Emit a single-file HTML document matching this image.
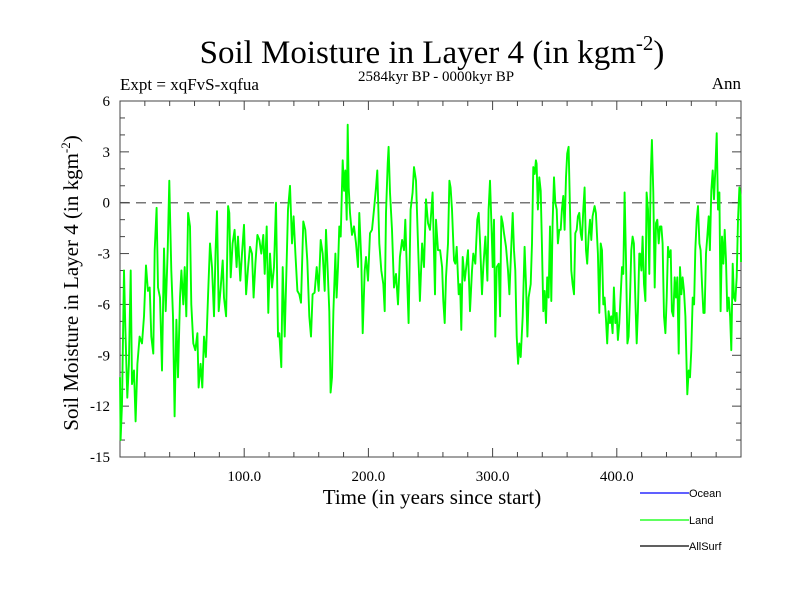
<!DOCTYPE html>
<html><head><meta charset="utf-8"><style>
body{margin:0;background:#fff}
svg text{font-family:"Liberation Serif",serif}
</style></head><body>
<svg id="chart" width="800" height="600" viewBox="0 0 800 600" xmlns="http://www.w3.org/2000/svg">
<rect width="800" height="600" fill="#fff"/>
<text x="432" y="63" font-size="33" text-anchor="middle">Soil Moisture in Layer 4 (in kgm<tspan dy="-13" font-size="21">-2</tspan><tspan dy="13">)</tspan></text>
<text x="120" y="90" font-size="17">Expt = xqFvS-xqfua</text>
<text x="436" y="81" font-size="15" text-anchor="middle">2584kyr BP - 0000kyr BP</text>
<text x="741" y="89" font-size="17" text-anchor="end">Ann</text>
<text x="432" y="504" font-size="21" text-anchor="middle">Time (in years since start)</text>
<text transform="translate(78,283) rotate(-90)" font-size="21" text-anchor="middle">Soil Moisture in Layer 4 (in kgm<tspan dy="-8" font-size="13">-2</tspan><tspan dy="8">)</tspan></text>
<g id="axes"></g>
<g id="series"></g>
<g>
<g><line x1="640" y1="493" x2="689" y2="493" stroke="#0000ff" stroke-width="1.2"/><text x="689" y="497" font-size="11" style="font-family:'Liberation Sans',sans-serif">Ocean</text></g>
<g><line x1="640" y1="520" x2="689" y2="520" stroke="#00ff00" stroke-width="1.2"/><text x="689" y="524" font-size="11" style="font-family:'Liberation Sans',sans-serif">Land</text></g>
<g><line x1="640" y1="546" x2="689" y2="546" stroke="#000" stroke-width="1.2"/><text x="689" y="550" font-size="11" style="font-family:'Liberation Sans',sans-serif">AllSurf</text></g>
</g>
</svg>
<script>
const xTicks=[100,200,300,400];
const xTickLabels=["100.0","200.0","300.0","400.0"];
const yTicks=[6,3,0,-3,-6,-9,-12,-15];
const yTickLabels=["6","3","0","-3","-6","-9","-12","-15"];
const landYears=[0,0.5,1.6,3.2,4.3,5.9,7.2,8.6,9.7,11.3,12.6,14,15.8,17.7,19.3,20.9,22.5,23.9,25.2,26.8,27.9,29.5,30.6,32.2,33.8,35.4,36.8,38.4,39.7,40.5,41.3,42.7,44,45.4,46.7,48.3,49.4,51,52.1,53.4,54.8,56.4,57.4,59,60.6,62.3,63.3,64.9,66.3,67.6,69.2,70.9,72.5,74.1,75.7,77,78.1,79.5,81.1,82.7,83.7,
85.4,87,88,89.1,90.7,92.3,93.9,95,96.9,98.2,99.8,101.5,103.1,104.7,106.3,107.6,109,110.6,112.2,113.8,115.4,116.5,118.1,119.4,120.8,122.4,124,125.6,127.2,128.3,129.9,131,132.6,134.2,135.3,136.9,138.5,139.8,141.2,142.8,144.4,145.7,147.6,149.2,150.8,152.4,153.8,155.1,156.7,158.4,160,161.6,163.2,164.8,
165.9,167.2,168.5,169.6,170.7,171.8,173.4,174.4,175.5,176.6,177.7,179.3,180.4,181.4,182.5,183.3,184.1,185.2,186.8,188.4,190,191.6,192.7,194.3,195.4,197,198.1,199.7,201.3,202.9,204.5,206.1,207.2,208.8,210.4,212,213.1,214.2,215.5,216.3,217.4,219,220.6,222.2,223.8,225.4,227.1,228.7,229.7,231.3,232.4,234,235.6,236.7,238.3,239.9,241.5,243.2,244.8,246.4,248,249.6,
251.7,252.8,253.6,254.4,256,257.7,259.3,260.3,261.4,262.5,264.1,265.2,266.2,267.3,268.9,270,271.1,272.7,273.8,274.8,275.9,277.5,279.1,280.2,281.8,283.4,284.5,286.1,287.7,288.8,289.9,291.5,292.5,294.2,295.8,296.8,297.9,299,300.1,301.1,302.2,303.3,304.9,306,307,308.1,309.2,310.8,312.4,313.5,315.1,316.2,317.2,318.3,319.4,320.5,321.5,322.6,324.2,325.8,326.9,328,329,330.7,331.7,332.8,333.9,334.9,
335.4,336.5,337.6,338.7,339.7,340.8,341.9,343,344,345.1,346.2,347.3,348.3,349.4,350.5,351.6,352.6,353.7,354.8,355.8,356.9,358,359.1,360.1,361.2,362.3,363.4,364.4,365.5,366.6,367.7,368.7,369.8,370.9,371.9,373,374.1,375.2,376.2,377.3,378.4,379.5,380.5,382.1,383.2,384.8,385.9,387,388.1,389.1,390.2,391.3,392.3,393.4,394.5,395.6,396.6,397.7,398.8,399.9,400.9,402,403.1,404.2,405.2,406.3,407.4,408.5,409.5,410.6,411.7,412.7,413.8,414.9,416,417,418.1,
418.7,419.8,420.8,421.9,423,424,425.1,426.2,427.3,428.3,429.4,430.5,431.6,432.6,433.7,434.8,435.9,436.9,438,439.1,440.2,441.2,442.3,443.4,444.4,445.5,446.6,447.7,448.7,449.8,450.9,452,453,454.1,455.2,456.3,456.8,457.9,458.9,460,461.1,462.2,463.2,464.3,465.4,466.5,467.5,468.6,469.7,470.7,471.8,472.9,474,475,476.1,477.2,478.3,479.3,480.4,481.5,482.6,483.6,484.7,485.8,486.9,487.9,489,490.1,491.2,492.2,493.3,494.4,495.4,496.5,497.6,498.7,499.7,500];
const landValues=[-10.3,-14,-11.9,-4,-7.3,-11.5,-9.5,-4,-10.7,-9.9,-12.9,-9.5,-7.9,-8.3,-6.7,-3.7,-5.2,-5,-7.9,-8.9,-2.8,-0.3,-5,-5.6,-9.9,-2.7,-6.4,-2.8,1.3,-1.4,-4,-6.7,-12.6,-6.9,-10.3,-5.6,-4,-6,-3.8,-6.7,-0.6,-1.4,-6,-8.3,-8.7,-7.7,-10.9,-9.5,-10.9,-7.9,-9.1,-5.4,-2.4,-3.8,-6.7,-2.8,-0.5,-6.4,-5,-3.4,-5.6,
-6.7,-0.2,-0.6,-4.4,-2.4,-1.6,-3.8,-2,-4.6,-3,-1.3,-5.4,-3.8,-2.6,-3,-5.6,-3.6,-1.9,-2.2,-3,-1.9,-4.2,-1.4,-6.5,-3,-5,-3.8,0,-7.9,-7.7,-9.7,-3.8,-7.9,-3.4,-0.4,1,-2.4,-0.8,-3,-5.2,-5.4,-5.9,-1.1,-1.6,-3.4,-6.7,-7.9,-5.4,-5.3,-3.8,-5.2,-2.2,-3,-5.2,
-1.6,-4,-6.4,-11.2,-10.3,-6.4,-3,-5.6,-3.8,-1.4,-2,2.5,0.7,1.9,-1,4.6,0.9,-0.6,-1.9,-1.4,-2.4,-3.8,-0.6,-3.4,-7.7,-4,-3.2,-4.6,-1.8,-1.6,-0.4,0.9,1.9,-2.4,-4,-4.8,-6.4,-0.6,2.3,3.3,0.6,-1.6,-5,-4.2,-6,-3.2,-2.2,-2.8,-1,-4.8,-7.1,-0.4,0.6,2.1,1.3,-2.4,-5.8,-2.4,-3.8,0.2,-1.2,-1.6,
0.6,-3,-5.4,-1,-2.8,-2.8,-3.8,-5.8,-7.1,-4.4,-2.4,1.3,0.9,-0.4,-3.4,-3.6,-2.6,-5.4,-4.8,-7.5,-3.2,-4.6,-3.6,-2.8,-6.4,-4,-3,-3.6,-1,-0.6,-2.4,-5.4,-3.8,-2,-4.6,-0.4,1.3,-1.2,-3.8,-1,-7.9,-3.8,-3.6,-6.7,-0.8,-1.2,-1.8,-2.6,-4,-5.4,-2.4,-0.6,-2.8,-4,-7.9,-9.5,-8.3,-9.1,-6.7,-2.6,-4.8,-7.9,-5.6,-4.8,-2.4,2.1,1.7,2.5,
2.3,-0.4,1.5,0.7,-2.4,-6.4,-5.2,-7.1,-4.4,-5.6,-1.4,-5.8,-1.2,1.5,0,-0.4,-2.4,-1.6,-1.6,-0.4,0.4,-1.6,1.5,2.9,3.3,-0.4,-4,-4.8,-5.4,-1.8,-1.6,-0.8,-0.6,-1.8,-2.2,-0.4,0.9,-2.8,-3.6,-2,-1,-2.2,-0.8,-0.2,-0.6,-3,-6.5,-2.4,-2.8,-6,-5.6,-6.9,-8.3,-6.4,-7.1,-6.7,-7.7,-5,-7.1,-6.5,-8.1,-7.1,-5.4,-3.8,-4.2,0.6,-3.4,-8.3,-7.9,-5.6,-2.8,-2,-2.4,-5.6,-8.3,-6.4,-3,
-3,-4,-2,-4.8,-5.8,0.6,-0.4,-4.2,1.5,3.7,0.6,-5,-1.2,-1,-2.4,-1.4,-1.4,-2.4,-6.7,-7.7,-5.6,-2.6,-3.2,-2.8,-6.4,-6.7,-4.4,-5.6,-4.4,-8.9,-3.8,-5.4,-4.4,-5.2,-6.7,-9.9,-11.3,-9.9,-10.3,-8.7,-5.6,-6,-2.8,-1,-0.2,-2.4,-2.8,-4.8,-6.5,-6.5,-3,-2,-0.8,-2.8,0.7,1.9,0.2,1.9,4.1,-0.4,0.6,-6.4,-2,-3.6,-1.6,-3.4,-6.4,-5.6,-6.7,-8.7,-3.6,-5.6,-5.8,-4.4,-1,0.9,0.4,-3.5];

const L=120,R=741,T=101,B=457,X0=0,X1=500,Y0=-15,Y1=6;
const sx=v=>L+(v-X0)/(X1-X0)*(R-L);
const sy=v=>B-(v-Y0)/(Y1-Y0)*(B-T);
const NS="http://www.w3.org/2000/svg";
const axes=document.getElementById('axes');
function mk(tag,attrs,parent){const e=document.createElementNS(NS,tag);for(const k in attrs)e.setAttribute(k,attrs[k]);parent.appendChild(e);return e;}

const frame=mk('rect',{x:L,y:T,width:R-L,height:B-T,fill:'none',stroke:'#444','stroke-width':1},axes);



const zero=mk('line',{x1:L,x2:R,y1:sy(0),y2:sy(0),stroke:'#777','stroke-width':1.5,'stroke-dasharray':'10,6'},axes);



for(let v=Y0;v<=Y1;v++){
  const major=(v%3===0);const len=major?9:5;const y=sy(v);
  const t1=mk('line',{x1:L,x2:L+len,y1:y,y2:y,stroke:'#444','stroke-width':1},axes);
  
  
  const t2=mk('line',{x1:R-len,x2:R,y1:y,y2:y,stroke:'#444','stroke-width':1},axes);
  
  
}
for(let v=20;v<X1;v+=20){
  const major=(v%100===0);const len=major?9:5;const x=sx(v);
  const t1=mk('line',{x1:x,x2:x,y1:B,y2:B-len,stroke:'#444','stroke-width':1},axes);
  
  
  const t2=mk('line',{x1:x,x2:x,y1:T,y2:T+len,stroke:'#444','stroke-width':1},axes);
  
  
}
yTicks.forEach((v,i)=>{
  const t=mk('text',{x:110,y:sy(v)+5,'font-size':15,'text-anchor':'end'},axes);
  t.textContent=yTickLabels[i];
  
  
});
xTicks.forEach((v,i)=>{
  const t=mk('text',{x:sx(v),y:481,'font-size':15,'text-anchor':'middle'},axes);
  t.textContent=xTickLabels[i];
  
  
});
const series=document.getElementById('series');
const d=landYears.map((yr,i)=>(i?'L':'M')+sx(yr).toFixed(1)+','+sy(landValues[i]).toFixed(1)).join('');
const path=mk('path',{d:d,fill:'none',stroke:'#00ff00','stroke-width':1.9,'stroke-linejoin':'round'},series);


</script>
</body></html>
